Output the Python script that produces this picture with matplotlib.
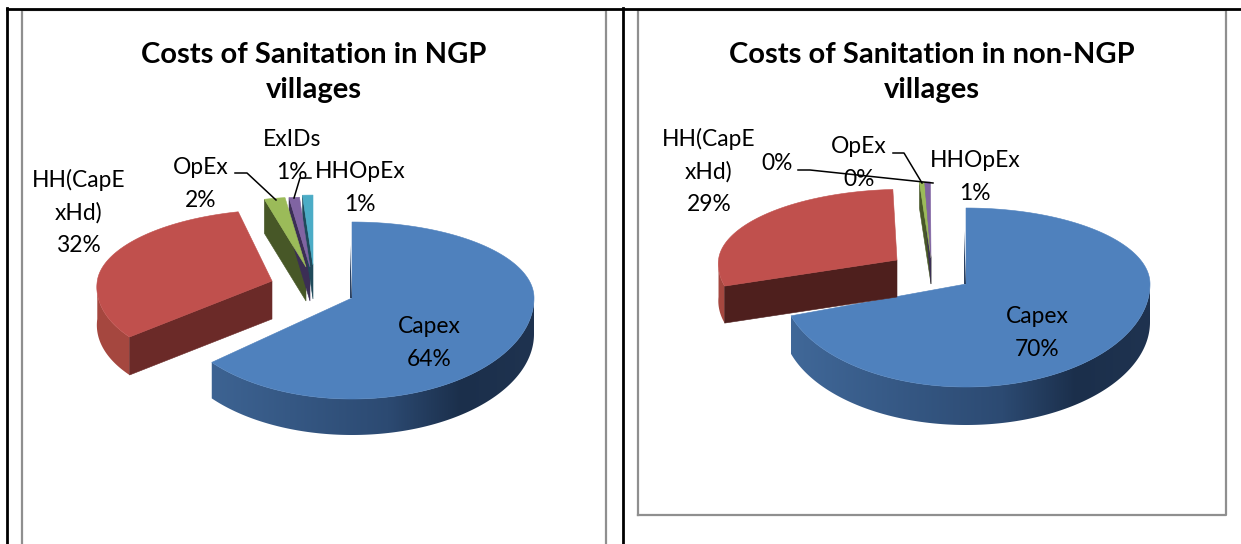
import numpy as np
import matplotlib
matplotlib.use("Agg")
import matplotlib.pyplot as plt
from matplotlib.patches import Polygon
from matplotlib.colors import to_rgb

plt.rcParams['font.family'] = ['Lato', 'DejaVu Sans']

# ---- data ----
slice_names = ["Capex", "HH(CapExHd)", "OpEx", "ExIDs", "HHOpEx"]
ngp_values = [64, 32, 2, 1, 1]
non_ngp_values = [70, 29, 0.45, 0.5, 0.05]
ngp_title = "Costs of Sanitation in NGP\nvillages"
non_ngp_title = "Costs of Sanitation in non-NGP\nvillages"
ngp_labels = ["Capex\n64%", "HH(CapE\nxHd)\n32%", "OpEx\n2%", "ExIDs\n1%", "HHOpEx\n1%"]
non_ngp_labels = ["Capex\n70%", "HH(CapE\nxHd)\n29%", "OpEx\n0%", "0%", "HHOpEx\n1%"]

# ---- styles ----
top_colors = ["#4f81bd", "#c0504d", "#9bbb59", "#8064a2", "#4bacc6"]
face_colors_ngp = [None, "#6b2a28", "#475727", "#3b2e55", "#1f4a5a"]
face_colors_non = [None, "#4e1f1d", "#475727", "#3b2e55", "#1f4a5a"]
rim_red = "#a5473f"
rim_blue_stops = [(-1.0, "#41699a"), (0.2, "#2c4a72"), (0.6, "#1b2f4b"), (1.0, "#1f3350")]

fig = plt.figure(figsize=(12.41, 5.44), dpi=100)
ax = fig.add_axes([0, 0, 1, 1])
ax.axis("off")


def blue_shade(f):
    fs = [s[0] for s in rim_blue_stops]
    cs = np.array([to_rgb(s[1]) for s in rim_blue_stops])
    return np.stack([np.interp(f, fs, cs[:, i]) for i in range(3)], axis=-1)


def make_point(cx, cy, rx, ryb, ryf, shear):
    def point(a):
        """a: clockwise degrees from 12 o'clock."""
        r = np.radians(a)
        c = np.cos(r)
        ry = ryb if c >= 0 else ryf
        y = -ry * c
        return cx + rx * np.sin(r) + shear * y, cy + y
    return point


def draw_slice(a0, a1, idx, cx, cy, rx, ryb, ryf, depth, face, shear, z):
    point = make_point(cx, cy, rx, ryb, ryf, shear)
    angles = np.linspace(a0, a1, max(int(a1 - a0) * 2, 4))
    pts = [point(a) for a in angles]
    lo, hi = max(a0, 90), min(a1, 270)
    if hi > lo:
        upper = [point(a) for a in np.linspace(lo, hi, int((hi - lo) * 2) + 2)]
        lower = [(x, y + depth) for x, y in reversed(upper)]
        rim = Polygon(upper + lower, closed=True, ec="none",
                      fc=rim_red if idx else "none", zorder=z)
        ax.add_patch(rim)
        if idx == 0:
            # horizontal gradient across the disc, clipped to the rim
            xs = np.linspace(-1, 1, 512)
            img = ax.imshow(blue_shade(xs)[None, :, :], aspect="auto", zorder=z,
                            extent=(cx - rx, cx + rx, cy + ryf + depth, cy),
                            interpolation="bilinear")
            img.set_clip_path(rim)
    if face is not None:
        o = pts[0]
        ax.add_patch(Polygon([(cx, cy), o, (o[0], o[1] + depth), (cx, cy + depth)],
                             closed=True, fc=face, ec=face, lw=0.4, zorder=z + 0.1))
    top_z = z + 0.2 if idx == 0 else z + 6
    ax.add_patch(Polygon([(cx, cy)] + pts, closed=True, fc=top_colors[idx],
                         ec=top_colors[idx], lw=0.4, zorder=top_z))


def draw_pie(values, cx, cy, rx, ryb, ryf, depth, offsets, rx_s, ryb_s, ryf_s, shears, faces, base_z):
    edges = np.concatenate([[0], np.cumsum(values)]) / np.sum(values) * 360
    for i in range(len(values)):
        if values[i] <= 0.1:
            continue
        dx, dy = offsets[i]
        draw_slice(edges[i], edges[i + 1], i, cx + dx, cy + dy, rx * rx_s[i], ryb * ryb_s[i],
                   ryf * ryf_s[i], depth[i], faces[i], shears[i], base_z + i)
    ax.add_patch(Polygon([(cx, cy), (cx - 2, cy), (cx - 2, cy - 0.7 * ryb)],
                         closed=True, fc="#2a4060", ec="none", zorder=base_z + 0.5))


draw_pie(ngp_values, 352, 298, 182, 76, 101,
         [36, 38, 34, 34, 34],
         [(0, 0), (-80, -17), (-46, -31), (-42, -31), (-39, -33)],
         [1, 0.96, 0.92, 0.92, 0.92],
         [1, 0.94, 0.92, 0.92, 0.92],
         [1, 0.87, 0.92, 0.92, 0.92],
         [0, -0.14, 0, 0, 0], face_colors_ngp, 2)
draw_pie(non_ngp_values, 966, 284, 184, 76, 103,
         [38, 37, 26, 26, 26],
         [(0, 0), (-69, -24), (-35, -26), (-35, -26), (-35, -26)],
         [1, 0.97, 1, 1, 1],
         [1, 0.93, 1, 1, 1],
         [1, 0.82, 1, 1, 1],
         [0, -0.1, 0, 0, 0], face_colors_non, 2)

# ---- frames ----
grey = "#8f8f8f"
ax.plot([22, 22, 606, 606], [544, 10, 10, 544], color=grey, lw=1.6, zorder=1)
ax.plot([638, 638, 1226, 1226, 638], [515, 10, 10, 515, 515], color=grey, lw=1.6, zorder=1)
ax.plot([6.5, 1241], [8.5, 8.5], color="black", lw=2, zorder=1.5)
ax.plot([7, 7], [8, 544], color="black", lw=2, zorder=1.5)
ax.plot([623, 623], [8, 544], color="black", lw=2, zorder=1.5)

# ---- text ----
title_kw = dict(ha="center", va="center", fontsize=21, fontweight="bold",
                color="black", linespacing=1.42, zorder=20)
ax.text(314, 72.5, ngp_title, **title_kw)
ax.text(932, 72.5, non_ngp_title, **title_kw)

label_kw = dict(ha="center", va="center", fontsize=16.4, color="black",
                linespacing=1.65, zorder=20)
for (x, y), s in zip([(429, 343), (79, 212), (201, 184), (292, 156), (360, 188)], ngp_labels):
    ax.text(x, y, s, **label_kw)
for (x, y), s in zip([(1037, 333), (709, 171), (859, 163), (777, 164), (975, 177)], non_ngp_labels):
    ax.text(x, y, s, **label_kw)

# ---- leader lines ----
for xs, ys in [([235, 247, 276], [173, 173, 200]),
               ([311, 300, 294], [178, 178, 198]),
               ([798, 810, 933], [170, 170, 183]),
               ([893, 904, 922], [153, 153, 183])]:
    ax.plot(xs, ys, color="black", lw=1.1, zorder=21)

ax.set_xlim(0, 1241)
ax.set_ylim(544, 0)

fig.savefig("out.png", dpi=100)
